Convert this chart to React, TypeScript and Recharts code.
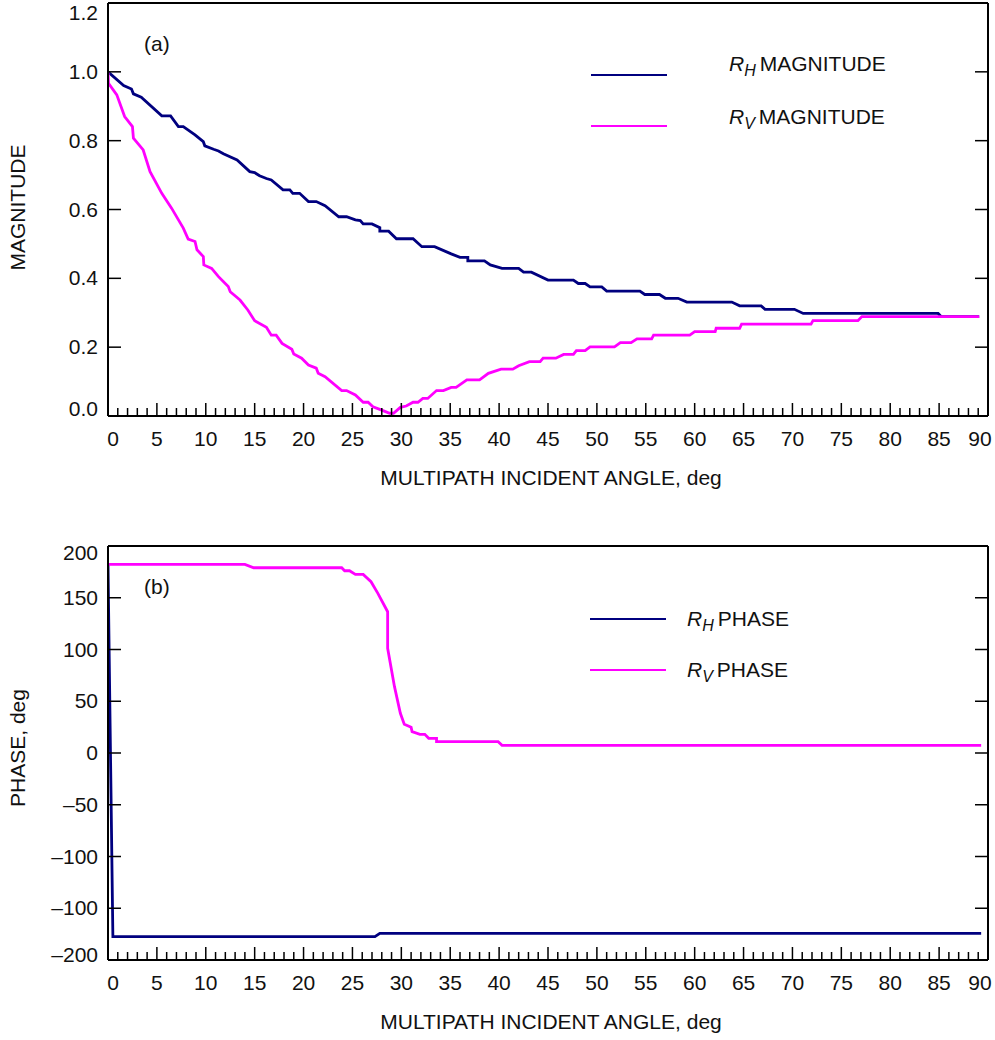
import { LineChart, Line, XAxis, YAxis, Legend, Label } from "recharts";

const FONT = '"Liberation Sans", Arial, Helvetica, sans-serif';
const FS = 21;
const NAVY = "#00007f";
const MAGENTA = "#ff00ff";

// (a) magnitude, angle in deg
const rhMagAngle = [0, 1.6, 2.4, 2.6, 3.4, 5.5, 6.4, 7.2, 7.7, 8.9, 9.75, 9.9, 10.8, 11.3, 11.8, 13.2, 14.5, 15, 15.5, 16.2, 16.7, 17.9, 18.6, 18.9, 19.6, 20.5, 21.3, 22.2, 23.6, 24.4, 25.3, 25.8, 26.1, 27, 27.8, 27.8, 28.7, 29.5, 31.2, 32.1, 33.4, 35.1, 36, 36.8, 36.8, 38.5, 39.1, 40.3, 42, 42.5, 43.3, 45, 47.6, 48.1, 48.8, 49.3, 50.5, 51, 54.4, 54.9, 56.4, 57, 58.3, 59.2, 63.8, 64.6, 66.8, 67.2, 70.2, 71.1, 84.9, 85.2, 89.1];
const rhMagValue = [1.0, 0.96, 0.95, 0.936, 0.926, 0.872, 0.872, 0.841, 0.841, 0.817, 0.797, 0.785, 0.775, 0.77, 0.762, 0.744, 0.71, 0.707, 0.698, 0.69, 0.686, 0.657, 0.657, 0.647, 0.647, 0.623, 0.623, 0.611, 0.579, 0.579, 0.57, 0.568, 0.558, 0.558, 0.547, 0.537, 0.537, 0.515, 0.515, 0.492, 0.492, 0.471, 0.461, 0.461, 0.451, 0.451, 0.439, 0.429, 0.429, 0.418, 0.418, 0.395, 0.395, 0.385, 0.385, 0.375, 0.375, 0.363, 0.363, 0.353, 0.353, 0.342, 0.342, 0.331, 0.331, 0.32, 0.32, 0.31, 0.31, 0.298, 0.298, 0.289, 0.289];

const rvMagAngle = [0, 0.05, 0.9, 1.7, 2.5, 2.6, 3.6, 4.3, 5.5, 6.5, 7.7, 8.2, 8.9, 9.1, 9.75, 9.8, 10.6, 11.3, 12.3, 12.5, 13.5, 14.3, 15, 16.2, 16.7, 17.2, 17.8, 18.8, 19, 19.8, 20.5, 21.3, 21.5, 22.2, 23.9, 24.4, 25.3, 26.1, 26.6, 27.1, 28, 28.8, 29.2, 29.9, 30.5, 31.2, 31.7, 32.2, 32.7, 33.6, 34.3, 35.1, 35.6, 36.7, 38, 38.9, 40.2, 41.4, 42, 43.1, 44.2, 44.5, 45.8, 46.6, 47.6, 47.9, 48.8, 49.3, 51.8, 52.4, 53.5, 54.1, 55.6, 55.8, 59.5, 60, 62.1, 62.2, 64.6, 64.8, 71.9, 72.1, 76.7, 77.1, 89.1];
const rvMagValue = [1.0, 0.967, 0.933, 0.87, 0.841, 0.807, 0.773, 0.71, 0.647, 0.604, 0.546, 0.514, 0.507, 0.483, 0.463, 0.439, 0.429, 0.405, 0.376, 0.361, 0.337, 0.308, 0.277, 0.258, 0.235, 0.235, 0.211, 0.194, 0.18, 0.168, 0.148, 0.139, 0.124, 0.114, 0.074, 0.074, 0.061, 0.04, 0.04, 0.027, 0.017, 0.008, 0.008, 0.025, 0.029, 0.04, 0.04, 0.051, 0.051, 0.074, 0.074, 0.083, 0.083, 0.105, 0.105, 0.124, 0.136, 0.136, 0.146, 0.158, 0.158, 0.168, 0.168, 0.179, 0.179, 0.19, 0.19, 0.201, 0.201, 0.213, 0.213, 0.224, 0.224, 0.235, 0.235, 0.245, 0.245, 0.255, 0.255, 0.267, 0.267, 0.277, 0.277, 0.289, 0.289];

// (b) phase, deg
const rhPhaseAngle = [0, 0.5, 27.3, 27.8, 89.3];
const rhPhaseValue = [182, -177.5, -177.5, -174.2, -174.2];

const rvPhaseAngle = [0, 14, 14.9, 23.9, 24.2, 24.7, 25.3, 26.1, 26.9, 27.6, 28.6, 28.6, 29.3, 29.9, 30.3, 31, 31.1, 31.9, 32.4, 32.8, 33.6, 33.6, 39.9, 40.3, 89.3];
const rvPhaseValue = [182.3, 182.3, 179, 179, 176.1, 176.1, 172.6, 172.6, 165.5, 154.2, 136.5, 101.2, 64.1, 38.4, 27.7, 24.8, 20.6, 18, 18, 14.2, 14.2, 10.9, 10.9, 7.4, 7.4];

const angleTicks = Array.from({ length: 91 }, (_, i) => i);
const magTicks = [0, 0.2, 0.4, 0.6, 0.8, 1.0, 1.2];
const magTickLabels = ["0.0", "0.2", "0.4", "0.6", "0.8", "1.0", "1.2"];
const phaseTicks = [-200, -150, -100, -50, 0, 50, 100, 150, 200];
const phaseTickLabels = ["\u2013200", "\u2013100", "\u2013100", "\u201350", "0", "50", "100", "150", "200"];

const zip = (xs: number[], ys: number[]) => xs.map((a, i) => ({ angle: a, value: ys[i] }));

function BottomTick(props: any) {
  const { x, y, payload } = props;
  const v = payload.value;
  const major = v % 5 === 0;
  const shift = v === 0 ? 5 : v === 90 ? -8 : 0;
  return (
    <g>
      <line x1={x} x2={x} y1={y} y2={y - (major ? 13 : 8)} stroke="#000" strokeWidth={1.5} />
      {major && (
        <text x={x + shift} y={y + 30} textAnchor="middle" fontSize={FS} fontFamily={FONT} fill="#111">
          {v}
        </text>
      )}
    </g>
  );
}

function TopTick(props: any) {
  const { x, y, payload } = props;
  const major = payload.value % 5 === 0;
  return <line x1={x} x2={x} y1={y} y2={y + (major ? 13 : 8)} stroke="#000" strokeWidth={1.5} />;
}

const makeLeftTick = (ticks: number[], labels: string[], highShift: number, lowShift: number) => (props: any) => {
  const { x, y, payload } = props;
  const i = ticks.indexOf(payload.value);
  const shift = i === ticks.length - 1 ? highShift : i === 0 ? lowShift : 0;
  return (
    <g>
      <line x1={x} x2={x + 13} y1={y} y2={y} stroke="#000" strokeWidth={1.5} />
      <text x={x - 10} y={y + 7 + shift} textAnchor="end" fontSize={FS} fontFamily={FONT} fill="#111">
        {labels[i]}
      </text>
    </g>
  );
};

function RightTick(props: any) {
  const { x, y } = props;
  return <line x1={x} x2={x - 13} y1={y} y2={y} stroke="#000" strokeWidth={1.5} />;
}

type Entry = { sub: string; text: string; color: string; lineY: number; textY: number };

function Panel(p: {
  height: number;
  topH: number;
  bottomH: number;
  yDomain: [number, number];
  yTicks: number[];
  yLabels: string[];
  highShift: number;
  lowShift: number;
  yTitle: string;
  titleShift: number;
  tag: string;
  tagY: number;
  lines: { data: { angle: number; value: number }[]; color: string; key: string }[];
  entries: Entry[];
  lineX: number;
  textX: number;
}) {
  const legendContent = () => (
    <div style={{ position: "relative", width: 995, height: 0 }}>
      {p.entries.map((e) => (
        <div key={e.sub}>
          <div style={{ position: "absolute", left: p.lineX, top: e.lineY - 1.4, width: 76, height: 2.8, background: e.color }} />
          <div
            style={{ position: "absolute", left: p.textX, top: e.textY - 12, fontSize: FS, lineHeight: "24px", fontFamily: FONT, color: "#111", whiteSpace: "nowrap" }}
          >
            <span style={{ fontStyle: "italic" }}>R</span>
            <span style={{ fontStyle: "italic", fontSize: 16, position: "relative", top: 5 }}>{e.sub}</span>
            <span style={{ marginLeft: 4 }}>{e.text}</span>
          </div>
        </div>
      ))}
    </div>
  );

  return (
    <LineChart width={995} height={p.height} margin={{ top: 0, right: 0, bottom: 0, left: 0 }}>
      <XAxis
        xAxisId="b"
        dataKey="angle"
        type="number"
        domain={[0, 90]}
        ticks={angleTicks}
        interval={0}
        allowDataOverflow
        height={p.bottomH}
        tickSize={0}
        tickMargin={0}
        tickLine={false}
        axisLine={{ stroke: "#000", strokeWidth: 2 }}
        tick={BottomTick}
      >
        <Label
          content={(lp: any) => {
            const vb = lp.viewBox;
            return (
              <text x={vb.x + vb.width / 2 + 3} y={vb.y + 69} textAnchor="middle" fontSize={FS} fontFamily={FONT} fill="#111">
                MULTIPATH INCIDENT ANGLE, deg
              </text>
            );
          }}
        />
      </XAxis>
      <XAxis
        xAxisId="t"
        orientation="top"
        type="number"
        domain={[0, 90]}
        ticks={angleTicks}
        interval={0}
        allowDataOverflow
        height={p.topH}
        tickSize={0}
        tickMargin={0}
        tickLine={false}
        axisLine={{ stroke: "#000", strokeWidth: 2 }}
        tick={TopTick}
      >
        <Label
          content={(lp: any) => {
            const vb = lp.viewBox;
            return (
              <text x={vb.x + 36} y={p.tagY} fontSize={FS} fontFamily={FONT} fill="#111">
                {p.tag}
              </text>
            );
          }}
        />
      </XAxis>
      <YAxis
        yAxisId="l"
        type="number"
        domain={p.yDomain}
        ticks={p.yTicks}
        interval={0}
        allowDataOverflow
        width={108}
        tickSize={0}
        tickMargin={0}
        tickLine={false}
        axisLine={{ stroke: "#000", strokeWidth: 2 }}
        tick={makeLeftTick(p.yTicks, p.yLabels, p.highShift, p.lowShift)}
      >
        <Label
          content={(lp: any) => {
            const vb = lp.viewBox;
            const cy = vb.y + vb.height / 2 + p.titleShift;
            return (
              <text x={25} y={cy} transform={`rotate(-90 25 ${cy})`} textAnchor="middle" fontSize={FS} fontFamily={FONT} fill="#111">
                {p.yTitle}
              </text>
            );
          }}
        />
      </YAxis>
      <YAxis
        yAxisId="r"
        orientation="right"
        type="number"
        domain={p.yDomain}
        ticks={p.yTicks}
        interval={0}
        allowDataOverflow
        width={7}
        tickSize={0}
        tickMargin={0}
        tickLine={false}
        axisLine={{ stroke: "#000", strokeWidth: 2 }}
        tick={RightTick}
      />
      <Legend layout="vertical" align="center" verticalAlign="middle" wrapperStyle={{ left: 0, top: 0, width: 995 }} content={legendContent} />
      {p.lines.map((l) => (
        <Line
          key={l.key}
          xAxisId="b"
          yAxisId="l"
          data={l.data}
          dataKey="value"
          type="linear"
          stroke={l.color}
          strokeWidth={2.8}
          dot={false}
          activeDot={false}
          isAnimationActive={false}
        />
      ))}
    </LineChart>
  );
}

export default function App() {
  return (
    <div style={{ position: "absolute", left: 0, top: 0, width: 995, height: 1040, background: "#fff" }}>
      <Panel
        height={500}
        topH={3}
        bottomH={84}
        yDomain={[0, 1.2]}
        yTicks={magTicks}
        yLabels={magTickLabels}
        highShift={10}
        lowShift={-7}
        yTitle="MAGNITUDE"
        titleShift={-2}
        tag="(a)"
        tagY={51}
        lines={[
          { key: "rh", data: zip(rhMagAngle, rhMagValue), color: NAVY },
          { key: "rv", data: zip(rvMagAngle, rvMagValue), color: MAGENTA },
        ]}
        entries={[
          { sub: "H", text: "MAGNITUDE", color: NAVY, lineY: 75, textY: 64 },
          { sub: "V", text: "MAGNITUDE", color: MAGENTA, lineY: 126, textY: 117 },
        ]}
        lineX={591}
        textX={729}
      />
      <Panel
        height={540}
        topH={46}
        bottomH={80}
        yDomain={[-200, 200]}
        yTicks={phaseTicks}
        yLabels={phaseTickLabels}
        highShift={7}
        lowShift={-5}
        yTitle="PHASE, deg"
        titleShift={-5}
        tag="(b)"
        tagY={94}
        lines={[
          { key: "rh", data: zip(rhPhaseAngle, rhPhaseValue), color: NAVY },
          { key: "rv", data: zip(rvPhaseAngle, rvPhaseValue), color: MAGENTA },
        ]}
        entries={[
          { sub: "H", text: "PHASE", color: NAVY, lineY: 119, textY: 119 },
          { sub: "V", text: "PHASE", color: MAGENTA, lineY: 170, textY: 170 },
        ]}
        lineX={590}
        textX={687}
      />
    </div>
  );
}
